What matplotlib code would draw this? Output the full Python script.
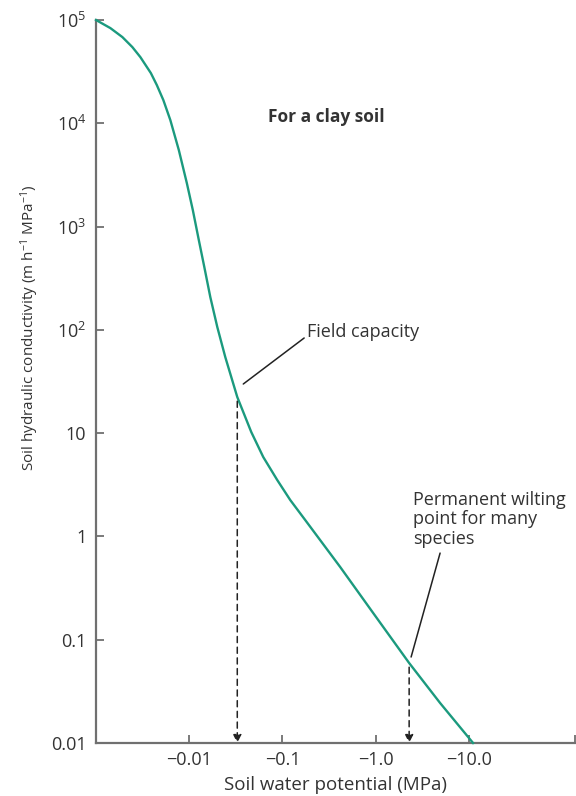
import matplotlib.pyplot as plt

# Soil water potential magnitude (MPa) and hydraulic conductivity
potential = [0.001, 0.001426, 0.001919, 0.002455, 0.002991, 0.003877, 0.004494, 0.005278,
             0.006272, 0.007735, 0.009425, 0.010929, 0.012674, 0.01452, 0.016833, 0.020009,
             0.024364, 0.03277, 0.04629, 0.06225, 0.08794, 0.12125, 0.1755, 0.4164,
             0.9401, 2.2862, 4.9131, 11.09]
conductivity = [1e5, 83480, 68320, 54660, 43730, 30620, 23430, 16770,
                10740, 5504, 2638, 1445, 740.1, 405.5, 207.7, 106.4,
                54.54, 22.36, 10.25, 5.87, 3.516, 2.251, 1.441, 0.5057,
                0.1814, 0.05948, 0.02438, 0.01]

x_ticks = [0.01, 0.1, 1.0, 10.0]
x_tick_labels = ['\u22120.01', '\u22120.1', '\u22121.0', '\u221210.0']
y_ticks = [0.01, 0.1, 1, 10, 100, 1000, 1e4, 1e5]
y_tick_labels = ['0.01', '0.1', '1', '10', r'10$^2$', r'10$^3$', r'10$^4$', r'10$^5$']

field_capacity = (0.03277, 22.36)
wilting_point = (2.2862, 0.05948)

plt.rcParams['font.family'] = ['Open Sans', 'DejaVu Sans']
plt.rcParams['mathtext.fontset'] = 'custom'
plt.rcParams['mathtext.rm'] = 'Open Sans'
plt.rcParams['mathtext.it'] = 'Open Sans'

text_color = '#333333'
axis_color = '#707070'
curve_color = '#1b9a7e'

fig = plt.figure(figsize=(5.76, 7.96), dpi=100)
ax = fig.add_axes([96 / 576, 53 / 796, 480 / 576, 723 / 796])

ax.plot(potential, conductivity, color=curve_color, lw=1.7, solid_joinstyle='round',
        clip_on=False, zorder=3)
ax.set_xscale('log')
ax.set_yscale('log')
ax.set_xlim(0.001, 10 ** ((576 - 375.5) / 93.3))
ax.set_ylim(0.01, 1e5)

# Spines
for side in ['top', 'right']:
    ax.spines[side].set_visible(False)
for side in ['left', 'bottom']:
    ax.spines[side].set_color(axis_color)
    ax.spines[side].set_linewidth(1.6)

ax.minorticks_off()
end_tick = 10 ** ((575 - 375.5) / 93.3)
ax.set_xticks(x_ticks + [end_tick])
ax.set_xticklabels(x_tick_labels + [''])
ax.set_yticks(y_ticks)
ax.set_yticklabels(y_tick_labels)
ax.tick_params(axis='both', direction='in', length=6, width=1.3, color=axis_color,
               labelsize=13, labelcolor=text_color)
ax.tick_params(axis='x', pad=6)
ax.tick_params(axis='y', pad=7)

ax.set_xlabel('Soil water potential (MPa)', fontsize=13.5, color=text_color, labelpad=5)
ax.set_ylabel('Soil hydraulic conductivity (m h$^{\u22121}$ MPa$^{\u22121}$)',
              fontsize=11, color=text_color)
ax.yaxis.set_label_coords(-0.115, 0.575)

# Dashed arrows down to the axis
for px, py in [field_capacity, wilting_point]:
    ax.annotate('', xy=(px, 0.01), xytext=(px, py),
                arrowprops=dict(arrowstyle='-|>', color='#222222', lw=1.1,
                                linestyle=(0, (4, 3)), mutation_scale=12,
                                shrinkA=3, shrinkB=0))

# Annotations
ax.text(0.295, 11500, 'For a clay soil', fontsize=12.5, fontweight='bold',
        color=text_color, ha='center', va='center')

ax.text(0.1845, 95, 'Field capacity', fontsize=13, color=text_color,
        ha='left', va='center')
ax.annotate('', xy=(0.038, 29.9), xytext=(0.171, 83.4),
            arrowprops=dict(arrowstyle='-', color='#222222', lw=1.1,
                            shrinkA=0, shrinkB=0))

ax.text(2.52, 1.47, 'Permanent wilting\npoint for many\nspecies', fontsize=13,
        color=text_color, ha='left', va='center', linespacing=1.1)
ax.annotate('', xy=(2.40, 0.068), xytext=(4.91, 0.69),
            arrowprops=dict(arrowstyle='-', color='#222222', lw=1.1,
                            shrinkA=0, shrinkB=0))

fig.savefig('out.png', dpi=100, facecolor='white')
